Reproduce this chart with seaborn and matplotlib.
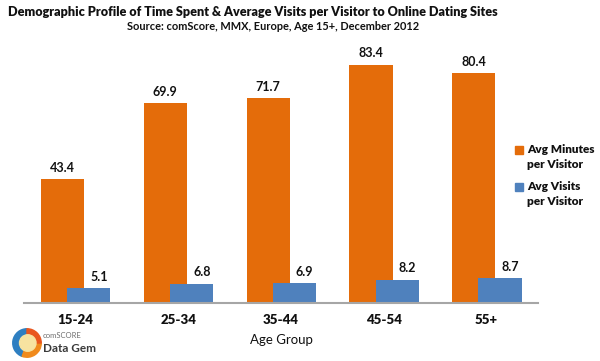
import matplotlib
matplotlib.use("Agg")
import matplotlib.pyplot as plt
import seaborn as sns
import pandas as pd
from matplotlib.patches import Wedge, Circle, Rectangle

age_groups = ["15-24", "25-34", "35-44", "45-54", "55+"]
avg_minutes = [43.4, 69.9, 71.7, 83.4, 80.4]
avg_visits = [5.1, 6.8, 6.9, 8.2, 8.7]
series_names = ["Avg Minutes\nper Visitor", "Avg Visits\nper Visitor"]

ORANGE = "#E46C0A"
BLUE = "#4F81BD"
FONT = ["Lato", "DejaVu Sans"]

sns.set_theme(style="white")
plt.rcParams["font.family"] = FONT

df_min = pd.DataFrame({"age": age_groups, "val": avg_minutes})
df_vis = pd.DataFrame({"age": age_groups, "val": avg_visits})

fig = plt.figure(figsize=(6.0, 3.61), dpi=100)
ax = fig.add_axes([24 / 600, 58 / 361, 514 / 600, 257 / 361])

W = 0.42
sns.barplot(data=df_min, x="age", y="val", color=ORANGE, width=W, ax=ax,
            saturation=1, order=age_groups)
n0 = len(ax.patches)
sns.barplot(data=df_vis, x="age", y="val", color=BLUE, width=W, ax=ax,
            saturation=1, order=age_groups)
for i, p in enumerate(ax.patches):
    off = -0.125 if i < n0 else 0.13
    p.set_x(p.get_x() + off)
    p.set_edgecolor("none")

ax.set_xlim(-0.5, 4.5)
ax.set_ylim(0, 90)

for i, p in enumerate(ax.patches):
    h = p.get_height()
    cx = p.get_x() + p.get_width() / 2
    if i >= n0:
        cx += 0.1
    ax.annotate(f"{h:.1f}", (cx, h), xytext=(0, 4), textcoords="offset points",
                ha="center", va="bottom", fontsize=9, fontweight="bold",
                color="#111111")

for s in ["top", "right", "left"]:
    ax.spines[s].set_visible(False)
ax.spines["bottom"].set_color("#A6A6A6")
ax.spines["bottom"].set_linewidth(1.5)
ax.set_yticks([])
ax.tick_params(axis="x", length=0, pad=8, labelsize=9.5)
for t in ax.get_xticklabels():
    t.set_fontweight("heavy")
    t.set_color("#111111")
ax.set_xlabel("Age Group", fontsize=9.5, color="#111111", labelpad=6)
ax.set_ylabel("")

# legend (square aligned with first text line, as in reference)
for name, col, ytop in zip(series_names, [ORANGE, BLUE], [150, 187]):
    fig.patches.append(Rectangle((515 / 600, 1 - (ytop + 4) / 361), 8 / 600, 8 / 361,
                                 transform=fig.transFigure, color=col))
    fig.text(527 / 600, 1 - (ytop - 6) / 361, name, ha="left", va="top",
             fontsize=8.5, fontweight="heavy", color="#111111", linespacing=1.45)

fig.text(8 / 600, 1 - 12 / 361, "Demographic Profile of Time Spent & Average Visits per Visitor to Online Dating Sites",
         ha="left", va="center", fontsize=9.1, fontweight="heavy", color="#111111")
fig.text(273 / 600, 1 - 26 / 361, "Source: comScore, MMX, Europe, Age 15+, December 2012",
         ha="center", va="center", fontsize=7.9, fontweight="bold", color="#111111")

# logo
lax = fig.add_axes([12 / 600, 3 / 361, 30 / 600, 30 / 361])
lax.set_xlim(-1, 1)
lax.set_ylim(-1, 1)
lax.set_aspect("equal")
lax.axis("off")
lax.add_patch(Wedge((0, 0), 0.95, 90, 250, color="#2E7FC1"))
lax.add_patch(Wedge((0, 0), 0.95, 250, 360, color="#F08A1C"))
lax.add_patch(Wedge((0, 0), 0.95, 0, 90, color="#E9561E"))
lax.add_patch(Circle((0.05, 0.0), 0.55, color="#F7E3A0"))
fig.text(43 / 600, 1 - 336 / 361, "comSCORE", ha="left", va="center",
         fontsize=5.5, color="#6E6E6E")
fig.text(43 / 600, 1 - 348 / 361, "Data Gem", ha="left", va="center",
         fontsize=8.5, fontweight="bold", color="#3A3A3A")

fig.savefig("out.png", dpi=100)
